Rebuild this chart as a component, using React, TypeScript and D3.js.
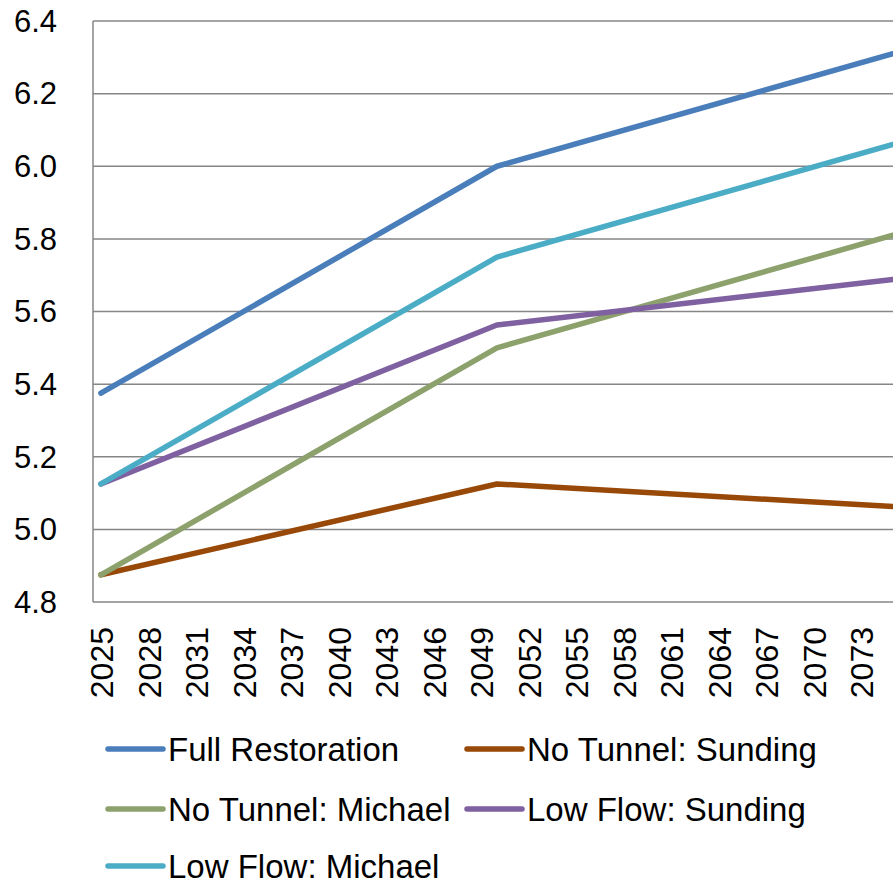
import React from "react";
import * as d3 from "d3";

const categories: number[] = d3.range(2025, 2076);
const keyYears: number[] = [2025, 2050, 2075];
const fullRestoration: number[] = [5.375, 6.0, 6.31];
const noTunnelSunding: number[] = [4.875, 5.125, 5.063];
const noTunnelMichael: number[] = [4.875, 5.5, 5.81];
const lowFlowSunding: number[] = [5.125, 5.563, 5.688];
const lowFlowMichael: number[] = [5.125, 5.75, 6.06];
const yTicks: number[] = [4.8, 5.0, 5.2, 5.4, 5.6, 5.8, 6.0, 6.2, 6.4];
const xTickLabels: number[] = categories.filter((_, i) => i % 3 === 0 && i < 50);

const seriesNames = [
  "Full Restoration",
  "No Tunnel: Sunding",
  "No Tunnel: Michael",
  "Low Flow: Sunding",
  "Low Flow: Michael",
];
const seriesValues = [fullRestoration, noTunnelSunding, noTunnelMichael, lowFlowSunding, lowFlowMichael];
const colors = ["#4A7EBB", "#984807", "#8DA16D", "#7F60A0", "#4BACC6"];

const W = 893;
const H = 885;
const left = 93;
const top = 21;
const bottom = 602;
const bandW = 15.84;
const font = "'Liberation Sans', Arial, sans-serif";

export default function App() {
  const x = d3
    .scaleBand<number>()
    .domain(categories)
    .range([left, left + bandW * categories.length])
    .padding(0);
  const xc = (yr: number) => (x(yr) as number) + x.bandwidth() / 2;
  const y = d3.scaleLinear().domain([4.8, 6.4]).range([bottom, top]);
  const line = d3
    .line<[number, number]>()
    .x((d) => xc(d[0]))
    .y((d) => y(d[1]));

  const legendPos = [
    [108, 749],
    [467, 749],
    [108, 809],
    [467, 809],
    [108, 866],
  ];

  return (
    <svg
      width={W}
      height={H}
      style={{ position: "absolute", left: 0, top: 0, background: "#fff" }}
      fontFamily={font}
    >
      <rect x={0} y={0} width={W} height={H} fill="#fff" />
      {yTicks.map((t) => (
        <line key={t} x1={left} x2={W} y1={y(t)} y2={y(t)} stroke="#868686" strokeWidth={1.5} />
      ))}
      <line x1={left} x2={left} y1={top} y2={bottom} stroke="#868686" strokeWidth={1.5} />
      {yTicks.map((t) => (
        <text key={t} x={57} y={y(t)} dy="0.35em" textAnchor="end" fontSize={31} fill="#000">
          {t.toFixed(1)}
        </text>
      ))}
      {xTickLabels.map((yr) => (
        <text
          key={yr}
          transform={`translate(${xc(yr) + 1},${627}) rotate(-90)`}
          dy="0.35em"
          textAnchor="end"
          fontSize={32}
          fill="#000"
        >
          {yr}
        </text>
      ))}
      {seriesValues.map((vals, i) => (
        <path
          key={seriesNames[i]}
          d={line(keyYears.map((yr, j) => [yr, vals[j]] as [number, number])) || ""}
          fill="none"
          stroke={colors[i]}
          strokeWidth={5.5}
          strokeLinecap="round"
          strokeLinejoin="round"
        />
      ))}
      {seriesNames.map((name, i) => (
        <g key={name}>
          <line
            x1={legendPos[i][0]}
            x2={legendPos[i][0] + 55}
            y1={legendPos[i][1]}
            y2={legendPos[i][1]}
            stroke={colors[i]}
            strokeWidth={5.5}
            strokeLinecap="round"
          />
          <text x={legendPos[i][0] + 60} y={legendPos[i][1]} dy="0.35em" fontSize={33} fill="#000">
            {name}
          </text>
        </g>
      ))}
    </svg>
  );
}
